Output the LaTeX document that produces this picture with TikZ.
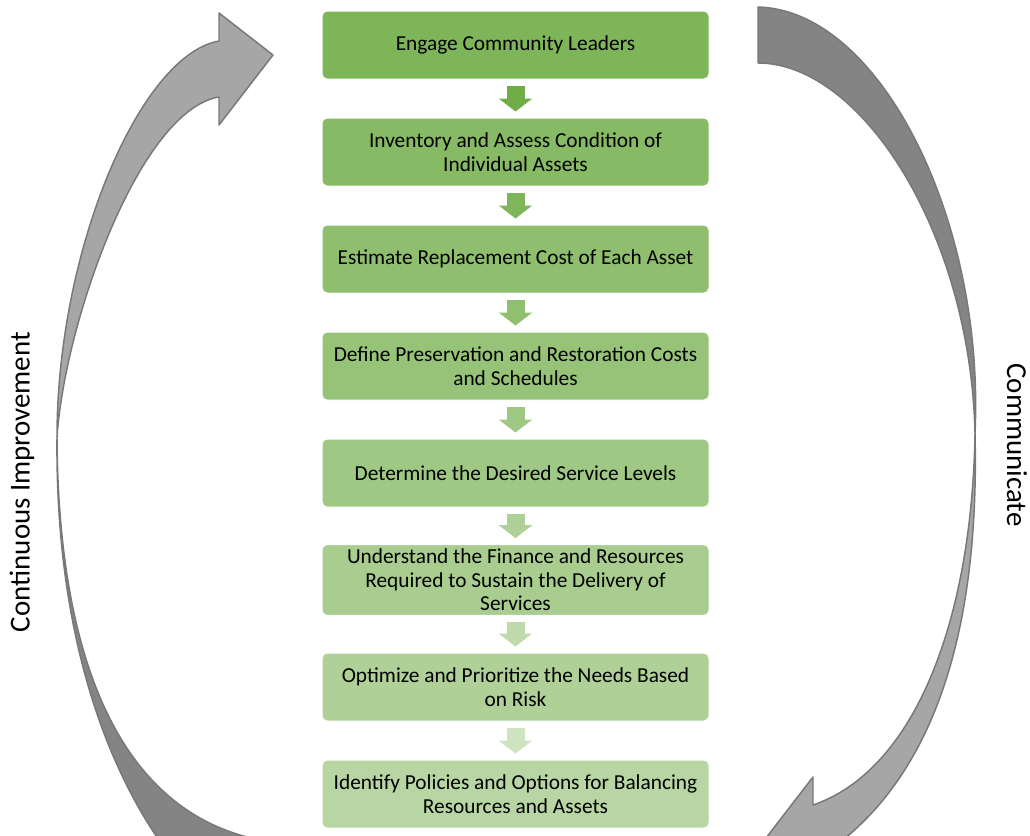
\documentclass[tikz,border=0pt]{standalone}
\usepackage{fontspec}
\setmainfont{Carlito}
\usetikzlibrary{arrows.meta}
\definecolor{stepgreen}{RGB}{112,173,71}
\definecolor{ribbonlight}{RGB}{166,166,166}
\definecolor{ribbondark}{RGB}{132,132,132}
\definecolor{ribbonline}{RGB}{120,120,120}
\tikzset{%
   stepbox/.style={
    rectangle,
    rounded corners=3.75pt,
    draw=white,
    line width=0.75pt,
    minimum width=290.25pt,
    minimum height=51pt,
    align=center,
    text=black,
    font=\fontsize{16}{17.6}\selectfont
  },
   steparrow/.style={
    line width=13.5pt,
    -{Triangle[width=24.75pt,length=9.75pt]},
    shorten <=4.5pt,
    shorten >=4.5pt
  },
   ribbon front/.style={fill=ribbonlight, draw=ribbonline, line width=1.1pt, line join=round},
   ribbon back/.style={fill=ribbondark, draw=ribbonline, line width=1.1pt, line join=round},
   side label/.style={text=black, font=\fontsize{21.7}{24}\selectfont},
}

\begin{document}
\begin{tikzpicture}[x=0.75pt, y=-0.75pt]

\useasboundingbox (0,0) rectangle (1030,835);

%%%%%%%%%%%%%%%%%%%%%%%%%%%%%%%%%%%%%%%%%%%%%%%%%%%%%%%%%%%%%%%%%%%%%%%%%%%%%
% ribbons

\begin{scope}
\clip (0,0) rectangle (1030,835);

% left one, going up
\draw [ribbon back] (57,437) .. controls (55,640) and (110,790) .. (190,880)
  -- (260,840) .. controls (110,810) and (58,640) .. cycle;
\draw [ribbon front] (57,437) .. controls (57,250) and (140,55) .. (219,41)
  -- (219,13) -- (273,55) -- (219,125) -- (219,97)
  .. controls (140,110) and (65,320) .. cycle;

% right one, going down
\draw [ribbon back] (758,7) .. controls (880,10) and (985,220) .. (975,433)
  .. controls (970,230) and (860,63) .. (758,63) -- cycle;
\draw [ribbon front] (975,433) .. controls (972,620) and (915,770) .. (813,805)
  -- (813,777) -- (759,847) -- (813,889) -- (813,861)
  .. controls (930,790) and (980,640) .. cycle;
\end{scope}

%%%%%%%%%%%%%%%%%%%%%%%%%%%%%%%%%%%%%%%%%%%%%%%%%%%%%%%%%%%%%%%%%%%%%%%%%%%%%
% steps

\foreach \t/\p [count=\y] in {
  {Engage Community Leaders}/90,
  {Inventory and Assess Condition of\\Individual Assets}/84,
  {Estimate Replacement Cost of Each Asset}/79,
  {Define Preservation and Restoration Costs\\and Schedules}/73,
  {Determine the Desired Service Levels}/67,
  {Understand the Finance and Resources\\Required to Sustain the Delivery of\\Services}/61,
  {Optimize and Prioritize the Needs Based\\on Risk}/56,
  {Identify Policies and Options for Balancing\\Resources and Assets}/50}
{
 \node [stepbox, fill=stepgreen!\p] (box-\y) at (515.5,{45+107*(\y-1)}) {\t};
}

\foreach \p [count=\i] in {100,89,78,67,56,45,34}
{
 \pgfmathtruncatemacro\j{\i+1}
 \draw [steparrow, draw=stepgreen!\p] (box-\i) -- (box-\j);
}

%%%%%%%%%%%%%%%%%%%%%%%%%%%%%%%%%%%%%%%%%%%%%%%%%%%%%%%%%%%%%%%%%%%%%%%%%%%%%
% labels

\node [side label, rotate=90] (improve) at (22,482) {Continuous Improvement};
\node [side label, rotate=-90] (communicate) at (1017,445) {Communicate};

\end{tikzpicture}
\end{document}
